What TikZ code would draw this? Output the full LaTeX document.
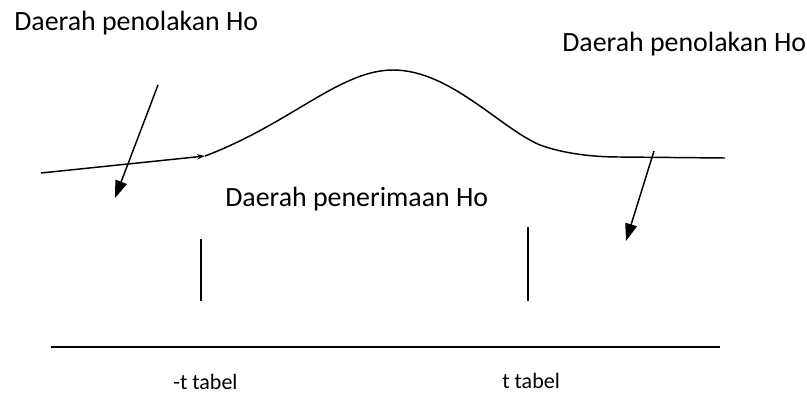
\documentclass[tikz,border=0pt]{standalone}
\usepackage{fontspec}
\setmainfont{Carlito}
\usepackage{tikz}
\usetikzlibrary{arrows.meta,positioning}

\begin{document}
\begin{tikzpicture}[x=0.75pt, y=-0.75pt,
    label/.style={anchor=base west, inner sep=0pt, font=\fontsize{20.9}{24}\selectfont},
    small/.style={anchor=base west, inner sep=0pt, font=\fontsize{16.5}{19}\selectfont},
    line/.style={line width=1.1pt},
    arrow/.style={-{Triangle[length=13pt, width=9pt]}, line width=1.1pt}]

    \useasboundingbox (0,0) rectangle (807,394);

    % texts
    \node[label] (rejL) at (14,30) {Daerah penolakan Ho};
    \node[label] (rejR) at (562,51) {Daerah penolakan Ho};
    \node[label] (acc) at (225,206) {Daerah penerimaan Ho};
    \node[small] (tL) at (173,389) {-t tabel};
    \node[small] (tR) at (502,388) {t tabel};

    % curve
    \coordinate (c0) at (41,173);
    \coordinate (c1) at (205,156);
    \coordinate (top) at (393,70);
    \coordinate (c2) at (540,145);
    \coordinate (c3) at (620,157);
    \coordinate (c4) at (725,158);
    \draw[line, -{Stealth[length=6pt, width=4pt]}] (c0) -- (c1);
    \draw[line] (c1) .. controls (290,124) and (340,70) .. (top)
        .. controls (450,70) and (500,128) .. (c2)
        .. controls (562,153) and (590,157) .. (c3) -- (c4);

    % arrows
    \coordinate (aL) at (158,85);
    \coordinate (bL) at (115,198);
    \coordinate (aR) at (654,151);
    \coordinate (bR) at (626,241);
    \draw[arrow] (aL) -- (bL);
    \draw[arrow] (aR) -- (bR);

    % ticks and axis
    \coordinate (k1) at (201,239);
    \coordinate (k2) at (201,301);
    \coordinate (k3) at (528,227);
    \coordinate (k4) at (528,301);
    \draw[line] (k1) -- (k2);
    \draw[line] (k3) -- (k4);
    \coordinate (x0) at (51,347);
    \coordinate (x1) at (720,347);
    \draw[line] (x0) -- (x1);
\end{tikzpicture}
\end{document}
